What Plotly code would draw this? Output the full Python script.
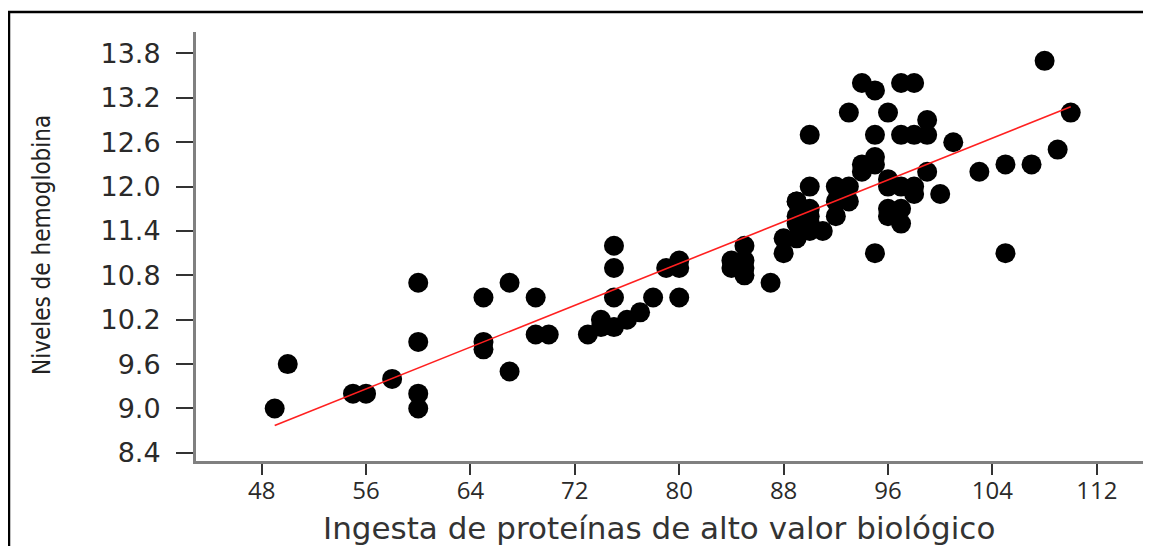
import plotly.graph_objects as go

# Ingesta de proteínas (x) and hemoglobin levels (y)
protein = [49, 50, 55, 56, 58, 60, 60, 60, 60,
           65, 65, 65, 67, 67, 69, 69, 70,
           73, 74, 74, 75, 76, 77, 75, 75, 75, 78, 79, 80, 80, 80,
           84, 84, 85, 85, 85, 85, 87,
           88, 88, 89, 89, 89, 89, 89, 90, 90, 90, 90, 90, 91, 92, 92, 93, 92, 93, 90, 93,
           94, 95, 97, 98, 96, 99, 95, 97, 98, 99, 101,
           94, 94, 95, 95, 96, 96, 97, 98, 98, 99, 100, 96, 97, 96, 97, 95,
           103, 105, 107, 109, 110, 108, 105]
hemoglobin = [9.0, 9.6, 9.2, 9.2, 9.4, 10.7, 9.9, 9.2, 9.0,
              10.5, 9.9, 9.8, 10.7, 9.5, 10.5, 10.0, 10.0,
              10.0, 10.2, 10.1, 10.1, 10.2, 10.3, 11.2, 10.9, 10.5, 10.5, 10.9, 11.0, 10.9, 10.5,
              11.0, 10.9, 11.2, 11.0, 10.9, 10.8, 10.7,
              11.1, 11.3, 11.3, 11.5, 11.6, 11.8, 11.8, 12.0, 11.7, 11.6, 11.5, 11.4, 11.4, 11.6, 11.8, 11.8, 12.0, 12.0, 12.7, 13.0,
              13.4, 13.3, 13.4, 13.4, 13.0, 12.9, 12.7, 12.7, 12.7, 12.7, 12.6,
              12.3, 12.2, 12.4, 12.3, 12.1, 12.0, 12.0, 12.0, 11.9, 12.2, 11.9, 11.7, 11.7, 11.6, 11.5, 11.1,
              12.2, 12.3, 12.3, 12.5, 13.0, 13.7, 11.1]

# fitted regression line end points
fit_x = [49, 110]
fit_y = [8.77, 13.08]

x_ticks = [48, 56, 64, 72, 80, 88, 96, 104, 112]
y_ticks = [8.4, 9.0, 9.6, 10.2, 10.8, 11.4, 12.0, 12.6, 13.2, 13.8]
y_tick_text = ["8.4", "9.0", "9.6", "10.2", "10.8", "11.4", "12.0", "12.6", "13.2", "13.8"]

x_title = "Ingesta de proteínas de alto valor biológico"
y_title = "Niveles de hemoglobina"

fig = go.Figure()
fig.add_trace(go.Scatter(
    x=protein, y=hemoglobin, mode="markers",
    marker=dict(color="black", size=20, line=dict(width=0)),
    showlegend=False, cliponaxis=False))
fig.add_trace(go.Scatter(
    x=fit_x, y=fit_y, mode="lines",
    line=dict(color="#ff2020", width=1.6),
    showlegend=False))

# page is drawn with an 8px body margin, so work in page pixels and shift
OFF = 8
W, H = 1151, 546
plot_left, plot_right, plot_top, plot_bottom = 196, 1143, 32, 461   # page pixels
L = plot_left - OFF
T = plot_top - OFF
R = (W + OFF) - plot_right
B = (H + OFF) - plot_bottom
pw = plot_right - plot_left
ph = plot_bottom - plot_top

def px(xp):
    return (xp - plot_left) / pw

def py(yp):
    return (plot_bottom - yp) / ph

fig.update_layout(
    width=W, height=H,
    margin=dict(l=L, r=R, t=T, b=B, autoexpand=False),
    paper_bgcolor="white", plot_bgcolor="white",
    xaxis=dict(range=[42.97, 115.54], tickmode="array", tickvals=x_ticks,
               showgrid=False, zeroline=False,
               showline=True, linecolor="#808080", linewidth=3,
               ticks="outside", ticklen=11, tickwidth=2, tickcolor="#333333",
               ticklabelstandoff=-5,
               tickfont=dict(family="Open Sans", size=24, color="#2a2a2a")),
    yaxis=dict(range=[8.29, 14.09], tickmode="array", tickvals=y_ticks, ticktext=y_tick_text,
               showgrid=False, zeroline=False,
               showline=True, linecolor="#808080", linewidth=3,
               ticks="outside", ticklen=17, tickwidth=2, tickcolor="#333333",
               ticklabelstandoff=10,
               tickfont=dict(family="DejaVu Sans", size=27, color="#2a2a2a")),
    annotations=[
        dict(text=x_title, xref="paper", yref="paper", x=px(659), y=py(528),
             xanchor="center", yanchor="middle", showarrow=False,
             font=dict(family="DejaVu Sans", size=31, color="#333333")),
        dict(text=y_title, xref="paper", yref="paper", x=px(42), y=py(245),
             xanchor="center", yanchor="middle", showarrow=False, textangle=-90,
             font=dict(family="Liberation Sans Narrow, DejaVu Sans Condensed, Roboto", size=24,
                       color="#222222")),
    ],
    shapes=[dict(type="rect", xref="paper", yref="paper",
                 x0=px(9), x1=px(1400), y0=py(800), y1=py(12),
                 line=dict(color="black", width=2.5), fillcolor="rgba(0,0,0,0)", layer="below")],
)

fig.write_html("out.html")
